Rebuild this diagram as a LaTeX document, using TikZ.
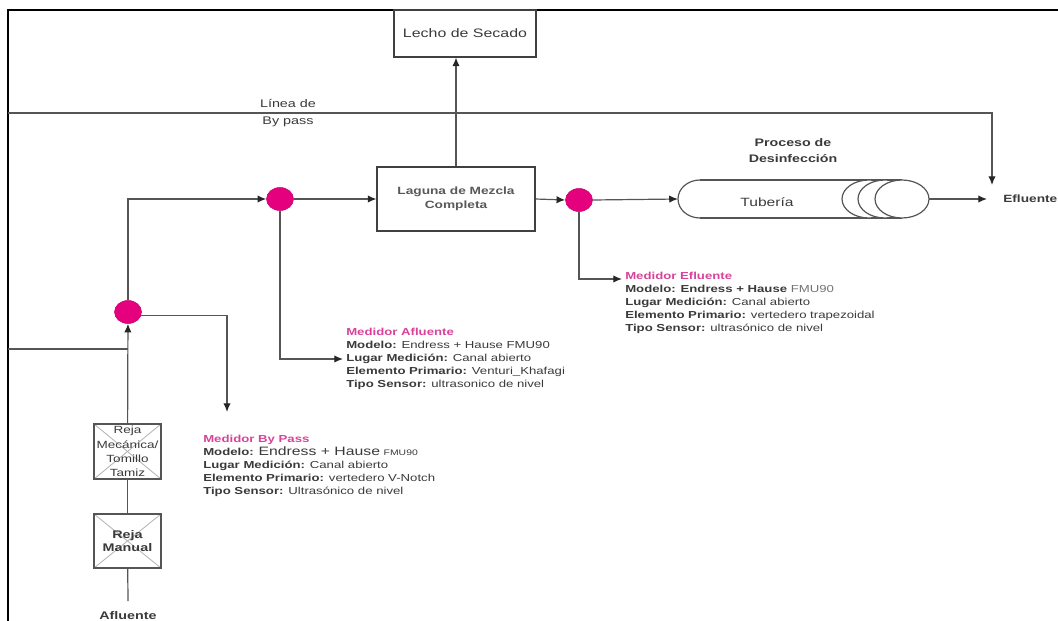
\documentclass[tikz,border=0pt]{standalone}
\usepackage{fontspec}
\setmainfont{Liberation Sans}[FakeStretch=1.3]
\usetikzlibrary{arrows.meta}
\usetikzlibrary{shapes.geometric}
\usetikzlibrary{positioning}
\definecolor{rosa}{HTML}{E5007D}
\definecolor{rosatexto}{HTML}{D8429A}
\definecolor{gristexto}{HTML}{3A3A3A}
\definecolor{grislinea}{HTML}{555555}
\newcommand{\fuentemedidor}{\fontsize{7.6}{9.75}\selectfont}
\tikzset{flecha/.style = {-{Latex[length=6.5pt,width=5.5pt,color=black!85]}}}
\tikzset{
linea/.style = {draw=grislinea, line width=0.9pt},
marco/.style = {draw=black, line width=1.6pt},
caja/.style = {draw=black!75, line width=0.8pt, fill=white, inner sep=0pt, text=gristexto},
medidor/.style = {ellipse, fill=rosa, draw=rosa!85!black, line width=0.4pt,
                  minimum width=20.25pt, minimum height=17.25pt, inner sep=0pt},
tubo/.style = {minimum width=188pt, minimum height=28.5pt, inner sep=0pt},
texto/.style = {inner sep=0pt, text=gristexto},
bloque/.style = {anchor=north west, align=left, inner sep=0pt, font=\fuentemedidor, text=gristexto},
reja/.style = {draw=grislinea, line width=0.8pt, fill=white, minimum width=50.25pt,
               inner sep=0pt, align=center, text=gristexto,
               path picture={\draw [black!30, line width=0.6pt]
                   (path picture bounding box.north west) -- (path picture bounding box.south east)
                   (path picture bounding box.south west) -- (path picture bounding box.north east);}},
}

\begin{document}
\begin{tikzpicture}[x=0.75pt, y=-0.75pt]
			\useasboundingbox (0, 0) rectangle (1058, 621);
			\draw [marco] (8, 621) -- (8, 10) -- (1058, 10);
			\node [caja, minimum width=106.5pt, minimum height=35.25pt, font=\fontsize{9.2}{11}\selectfont] (lecho) at (465, 33.5) {Lecho de Secado};
			\node [caja, minimum width=118.5pt, minimum height=48pt, align=center, font=\bfseries\fontsize{7.9}{10.5}\selectfont, text=black!65] (laguna) at (456, 199) {Laguna de Mezcla\\Completa};
			\node [medidor] (med1) at (280, 199) {};
			\node [medidor] (med2) at (579, 200) {};
			\node [medidor] (med3) at (128, 312) {};
			\node [tubo] (tub) at (803.5, 199) {};
			\node [texto, anchor=west, inner xsep=12pt, font=\bfseries\fontsize{7.9}{10}\selectfont] (efl) at (987, 199) {Efluente};
			\node [texto, align=center, font=\bfseries\fontsize{8.2}{12}\selectfont] (proc) at (793, 151) {Proceso de\\Desinfección};
			\node [texto, align=center, font=\fontsize{8.3}{12.75}\selectfont] (lbp) at (288, 113) {Línea de\\By pass};
			\node [reja, minimum height=41.25pt, font=\fontsize{7.8}{10.7}\selectfont] (mecanica) at (127.5, 451.5) {Reja\\Mecánica/\\Tomillo\\Tamiz};
			\node [reja, minimum height=40.5pt, font=\bfseries\fontsize{8.3}{9.75}\selectfont] (manual) at (127.5, 541) {Reja\\Manual};
			\node [texto, font=\bfseries\fontsize{8.25}{10}\selectfont] (afl) at (128, 616) {Afluente};
			\coordinate (bp0) at (8, 113);
			\coordinate (bp1) at (992, 185);
			\coordinate (pafl) at (343, 359);
			\coordinate (pefl) at (622, 279);
			\coordinate (pbp) at (227, 412);
			\coordinate (izq) at (8, 349);
			\coordinate (union) at (128, 349);
			\coordinate (pie) at (128, 601);
			\draw [linea] (700, 180) -- (902, 180) (700, 218) -- (902, 218);
			\draw [linea] (700, 180) arc [start angle=270, end angle=90, x radius=22, y radius=19];
			\foreach \cx in {869, 885, 902}
				\draw [linea, fill=white] (\cx, 199) ellipse [x radius=27, y radius=19];
			\node [texto, font=\fontsize{9}{11}\selectfont] (tubtxt) at (767, 202) {Tubería};
			\draw [linea, flecha] (bp0) -| (bp1);
			\draw [linea, flecha] (laguna.north) -- (laguna.north |- lecho.south);
			\draw [linea, flecha] (med3.north) |- (med1.west);
			\draw [linea, flecha] (med1.east) -- (laguna.west);
			\draw [linea, flecha] (laguna.east) -- (med2.west);
			\draw [linea, flecha] (med2.east) -- (tub.west);
			\draw [linea, flecha] (tub.east) -- (efl.west);
			\draw [linea, flecha] (med1.south) |- (pafl);
			\draw [linea, flecha] (med2.south) |- (pefl);
			\draw [linea, flecha] (med3.-15) -| (pbp);
			\draw [linea] (izq) -- (union);
			\draw [linea] (pie) -- (manual);
			\draw [linea] (manual) -- (mecanica);
			\draw [linea, flecha] (mecanica) -- (med3);
			\node [bloque] (tefl) at (625, 272) {{\color{rosatexto}\bfseries Medidor Efluente}\\
				\textbf{Modelo: Endress + Hause} {\color{black!55}FMU90}\\
				\textbf{Lugar Medición:} Canal abierto\\
				\textbf{Elemento Primario:} vertedero trapezoidal\\
				\textbf{Tipo Sensor:} ultrasónico de nivel};
			\node [bloque] (tafl) at (346, 328) {{\color{rosatexto}\bfseries Medidor Afluente}\\
				\textbf{Modelo:} Endress + Hause FMU90\\
				\textbf{Lugar Medición:} Canal abierto\\
				\textbf{Elemento Primario:} Venturi\_Khafagi\\
				\textbf{Tipo Sensor:} ultrasonico de nivel};
			\node [bloque] (tbp) at (203, 435) {{\color{rosatexto}\bfseries Medidor By Pass}\\
				\textbf{Modelo:} {\fontsize{9.1}{9.75}\selectfont Endress + Hause} {\fontsize{6}{9.75}\selectfont FMU90}\\
				\textbf{Lugar Medición:} Canal abierto\\
				\textbf{Elemento Primario:} vertedero V-Notch\\
				\textbf{Tipo Sensor:} Ultrasónico de nivel};
		\end{tikzpicture}
\end{document}
